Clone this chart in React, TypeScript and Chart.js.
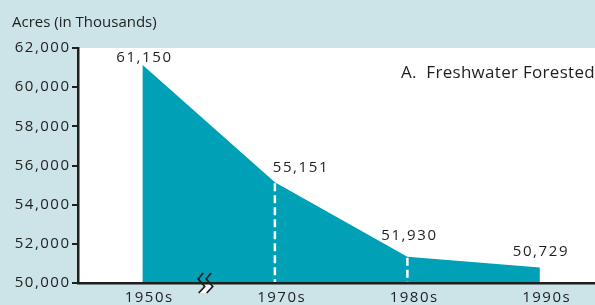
import React, { useEffect, useRef } from "react";
import { Chart, registerables } from "chart.js";

Chart.register(...registerables);

// ---- data ----
const decades = ["1950s", "1970s", "1980s", "1990s"];
const acres = [61150, 55151, 51340, 50790]; // plotted heights as drawn
const valueLabels = ["61,150", "55,151", "51,930", "50,729"];
const yMin = 50000;
const yMax = 62000;
const yStep = 2000;
const dashedDecades = [1, 2];
const axisTitle = "Acres (in Thousands)";
const panelTitle = "A.  Freshwater Forested";

// ---- styling ----
const FONT = '"Open Sans", sans-serif';
const BG = "#cce3e8";
const TEAL = "#00a0b7";
const INK = "#1f1f1f";
const LABEL_OFFSETS = [
  [2, -7],
  [26, -14],
  [2, -21],
  [1, -16],
];
const BREAK_AT = 0.44;

const spaced = (s: string) => s.split("").join("\u200A");

const decorPlugin = {
  id: "decor",
  beforeDraw(chart: any) {
    const { ctx, chartArea, width, height } = chart;
    ctx.save();
    ctx.fillStyle = BG;
    ctx.fillRect(0, 0, width, height);
    ctx.fillStyle = "#ffffff";
    ctx.fillRect(chartArea.left, chartArea.top, chartArea.right - chartArea.left, chartArea.bottom - chartArea.top);
    ctx.restore();
  },
  afterDatasetsDraw(chart: any) {
    const { ctx, scales } = chart;
    const xs = scales.x;
    const ys = scales.y;
    const base = ys.getPixelForValue(yMin);
    ctx.save();
    ctx.strokeStyle = "#ffffff";
    ctx.lineWidth = 2.5;
    ctx.setLineDash([8, 4]);
    dashedDecades.forEach((i) => {
      const x = xs.getPixelForValue(i);
      const y = ys.getPixelForValue(acres[i]);
      ctx.beginPath();
      ctx.moveTo(x, y + 1);
      ctx.lineTo(x, base);
      ctx.stroke();
    });
    ctx.setLineDash([]);
    ctx.fillStyle = INK;
    ctx.font = `15px ${FONT}`;
    (ctx as any).letterSpacing = "1.6px";
    ctx.textAlign = "center";
    ctx.textBaseline = "middle";
    valueLabels.forEach((t, i) => {
      const x = xs.getPixelForValue(i) + LABEL_OFFSETS[i][0];
      const y = ys.getPixelForValue(acres[i]) + LABEL_OFFSETS[i][1];
      ctx.fillText(t, x, y);
    });
    ctx.restore();
  },
  afterDraw(chart: any) {
    const { ctx, scales, chartArea } = chart;
    const xs = scales.x;
    const ys = scales.y;
    const base = ys.getPixelForValue(yMin);
    ctx.save();
    // axis break symbol
    const cx = xs.getPixelForValue(BREAK_AT);
    const stroke = (dx: number) => [
      [cx + dx + 2.5, base - 10],
      [cx + dx - 2.5, base - 4],
      [cx + dx + 4, base + 3.5],
      [cx + dx - 2, base + 10],
    ];
    const s1 = stroke(0);
    const s2 = stroke(8);
    ctx.fillStyle = "#ffffff";
    ctx.beginPath();
    ctx.moveTo(s1[1][0] + 4, base + 2);
    ctx.lineTo(s1[2][0], s1[2][1]);
    ctx.lineTo(s1[3][0], s1[3][1]);
    ctx.lineTo(s2[3][0], s2[3][1]);
    ctx.lineTo(s2[2][0], s2[2][1]);
    ctx.lineTo(s2[1][0] + 4, base + 2);
    ctx.closePath();
    ctx.fill();
    ctx.strokeStyle = INK;
    ctx.lineWidth = 1.8;
    [s1, s2].forEach((s) => {
      ctx.beginPath();
      ctx.moveTo(s[0][0], s[0][1]);
      for (let k = 1; k < s.length; k++) ctx.lineTo(s[k][0], s[k][1]);
      ctx.stroke();
    });
    // titles
    ctx.fillStyle = INK;
    ctx.textBaseline = "alphabetic";
    ctx.textAlign = "left";
    ctx.font = `15px ${FONT}`;
    ctx.fillText(axisTitle, 12, 27);
    (ctx as any).letterSpacing = "0.3px";
    ctx.textAlign = "right";
    ctx.font = `17px ${FONT}`;
    ctx.fillText(panelTitle, chartArea.right, 78);
    ctx.restore();
  },
};

export default function App() {
  const ref = useRef<HTMLCanvasElement | null>(null);

  useEffect(() => {
    document.body.style.margin = "0";
    const canvas = ref.current;
    if (!canvas) return;
    const chart = new Chart(canvas, {
      type: "line",
      data: {
        datasets: [
          {
            data: acres.map((v, i) => ({ x: i, y: v })),
            fill: "start",
            backgroundColor: TEAL,
            borderColor: TEAL,
            borderWidth: 0,
            pointRadius: 0,
            tension: 0,
          },
        ],
      },
      options: {
        animation: false,
        responsive: false,
        layout: { padding: { top: 48, right: 0, left: 0, bottom: 0 } },
        plugins: { legend: { display: false }, tooltip: { enabled: false }, title: { display: false } },
        scales: {
          x: {
            type: "linear",
            min: -0.486,
            max: 3.416,
            afterBuildTicks: (scale: any) => {
              scale.ticks = decades.map((_, i) => ({ value: i }));
            },
            afterFit: (scale: any) => {
              scale.height = 22;
            },
            grid: { display: false, drawTicks: false },
            border: { display: true, color: INK, width: 2.5, z: 2 },
            ticks: {
              autoSkip: false,
              maxRotation: 0,
              labelOffset: 6,
              padding: 6,
              color: INK,
              font: { family: FONT, size: 15 },
              callback: (v: any) => spaced(decades[Math.round(Number(v))] ?? ""),
            },
          },
          y: {
            type: "linear",
            min: yMin,
            max: yMax,
            afterFit: (scale: any) => {
              scale.width = 78;
            },
            grid: { drawOnChartArea: false, drawTicks: true, tickLength: 6, lineWidth: 2, color: INK },
            border: { display: true, color: INK, width: 2.5, z: 2 },
            ticks: {
              stepSize: yStep,
              padding: 3,
              color: INK,
              font: { family: FONT, size: 15 },
              callback: (v: any) => spaced(Number(v).toLocaleString("en-US")),
            },
          },
        },
      },
      plugins: [decorPlugin],
    } as any);
    return () => chart.destroy();
  }, []);

  return (
    <div style={{ width: 595, height: 305 }}>
      <canvas ref={ref} width={595} height={305} style={{ width: 595, height: 305, display: "block" }} />
    </div>
  );
}
